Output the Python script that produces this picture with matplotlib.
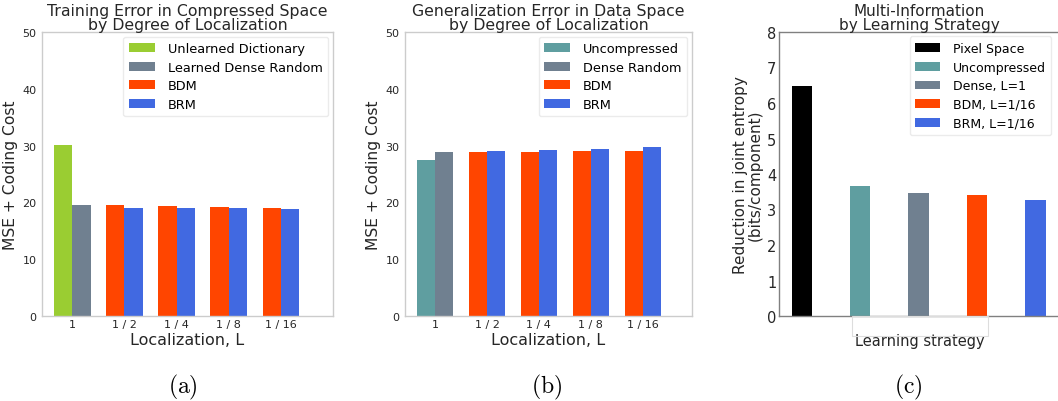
import matplotlib
matplotlib.use("Agg")
import matplotlib.pyplot as plt
from matplotlib.patches import Rectangle
import numpy as np

plt.rcParams['font.family'] = ['DejaVu Sans']
plt.rcParams['mathtext.fontset'] = 'cm'

# ---- data ----
loc_labels = ["1", "1 / 2", "1 / 4", "1 / 8", "1 / 16"]

# panel (a): training error
a_unlearned = [30.1]
a_dense = [19.5]
a_bdm = [19.5, 19.3, 19.2, 19.0]
a_brm = [19.0, 19.1, 19.1, 18.9]

# panel (b): generalization error
b_uncompressed = [27.4]
b_dense = [28.8]
b_bdm = [28.9, 28.9, 29.1, 29.1]
b_brm = [29.0, 29.3, 29.4, 29.8]

# panel (c): multi-information
c_labels = ["Pixel Space", "Uncompressed", "Dense, L=1", "BDM, L=1/16", "BRM, L=1/16"]
c_values = [6.47, 3.65, 3.46, 3.41, 3.26]

C_GREEN = "#9ACD32"
C_SLATE = "#708090"
C_RED = "#FF4500"
C_BLUE = "#4169E1"
C_TEAL = "#5F9EA0"
c_colors = ["black", C_TEAL, C_SLATE, C_RED, C_BLUE]

W, H = 1058, 402
fig = plt.figure(figsize=(W / 100, H / 100), dpi=100)

def px_axes(left, right, top=33, bottom=317):
    return fig.add_axes([left / W, 1 - bottom / H, (right - left) / W, (bottom - top) / H])

w = 0.35
light = "#cccccc"
txt = "#262626"

def grouped(ax, first0, first1, bdm, brm, lab0, lab1, col0, xlim, title):
    x = np.arange(len(loc_labels))
    ax.bar([x[0] - w / 2], first0, w, color=col0, label=lab0)
    ax.bar([x[0] + w / 2], first1, w, color=C_SLATE, label=lab1)
    ax.bar(x[1:] - w / 2, bdm, w, color=C_RED, label="BDM")
    ax.bar(x[1:] + w / 2, brm, w, color=C_BLUE, label="BRM")
    ax.set_xticks(x)
    ax.set_xticklabels(loc_labels, fontsize=8, color=txt)
    ax.set_ylim(0, 50)
    ax.set_yticks([0, 10, 20, 30, 40, 50])
    ax.tick_params(axis='y', labelsize=8, colors=txt, length=0, pad=4)
    ax.tick_params(axis='x', length=0, pad=2)
    ax.set_xlim(*xlim)
    for s in ax.spines.values():
        s.set_color(light)
        s.set_linewidth(1.0)
    ax.set_ylabel("MSE + Coding Cost", fontsize=11.2, color=txt, labelpad=3)
    ax.set_xlabel("Localization, L", fontsize=11.5, color=txt, labelpad=2)
    ax.set_title(title, fontsize=11.3, color=txt, pad=1, linespacing=0.95)
    leg = ax.legend(loc="upper right", fontsize=9.3, frameon=True, handlelength=2.0,
                    borderpad=0.45, labelspacing=0.42, handletextpad=1.0,
                    borderaxespad=0.35, fancybox=True)
    leg.get_frame().set_edgecolor("#e6e6e6")

ax1 = px_axes(42, 333)
grouped(ax1, a_unlearned, a_dense, a_bdm, a_brm, "Unlearned Dictionary",
        "Learned Dense Random", C_GREEN, (-0.58, 5.0),
        "Training Error in Compressed Space\nby Degree of Localization")

ax2 = px_axes(405, 692)
grouped(ax2, b_uncompressed, b_dense, b_bdm, b_brm, "Uncompressed",
        "Dense Random", C_TEAL, (-0.58, 4.95),
        "Generalization Error in Data Space\nby Degree of Localization")

# panel (c)
ax3 = px_axes(779, 1060)
xc = np.arange(len(c_values))
for i in range(len(c_values)):
    ax3.bar(xc[i], c_values[i], w, color=c_colors[i], label=c_labels[i])
ax3.set_xlim(-0.39, 4.42)
ax3.set_ylim(0, 8)
ax3.set_yticks(range(0, 9))
ax3.set_xticks([])
ax3.tick_params(axis='y', labelsize=10.5, colors=txt, length=0, pad=2)
for s in ax3.spines.values():
    s.set_color("#808080")
    s.set_linewidth(1.0)
ax3.set_ylabel("Reduction in joint entropy\n(bits/component)", fontsize=11,
               color=txt, labelpad=3, linespacing=1.0)
ax3.set_xlabel("Learning strategy", fontsize=10.5, color=txt, labelpad=12)
fig.patches.append(Rectangle((852 / W, 1 - 337 / H), 136 / W, 20 / H,
                             transform=fig.transFigure, fill=False,
                             edgecolor="#dddddd", linewidth=0.8, zorder=0))
ax3.set_title("Multi-Information\nby Learning Strategy", fontsize=11, color=txt,
              pad=1, linespacing=0.95)
leg3 = ax3.legend(loc="upper right", fontsize=9, frameon=True, handlelength=2.0,
                  borderpad=0.45, labelspacing=0.45, handletextpad=1.0,
                  borderaxespad=0.35, fancybox=True, bbox_to_anchor=(0.985, 1.0))
leg3.get_frame().set_edgecolor("#e6e6e6")

# subfigure labels
for xpx, lab in [(183, "(a)"), (547, "(b)"), (908, "(c)")]:
    fig.text(xpx / W, 1 - 387 / H, r"$\mathrm{" + lab + "}$", fontsize=17,
             ha="center", va="center", color="black")

fig.savefig("out.png", dpi=100)
